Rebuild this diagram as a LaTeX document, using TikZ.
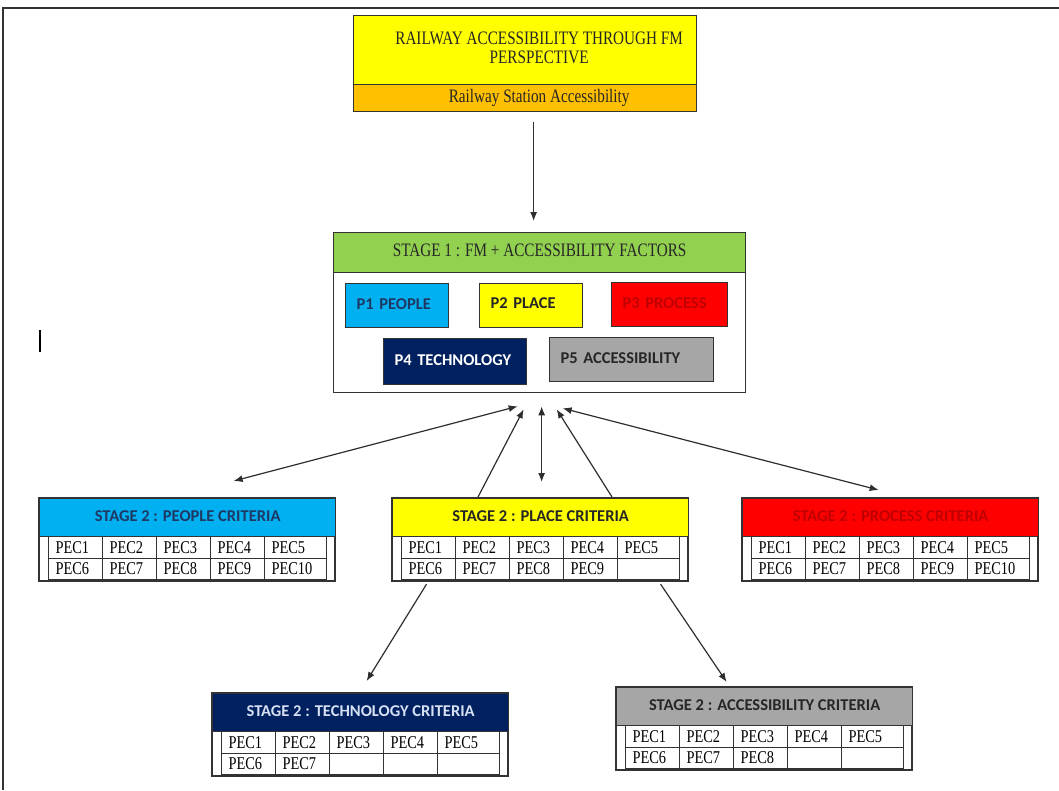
\documentclass[tikz,border=0pt]{standalone}
\usepackage{fontspec}
\usetikzlibrary{arrows.meta}
\newfontfamily\serifc{Liberation Serif}[FakeStretch=0.8]
\newfontfamily\calib{Carlito}

\definecolor{edge}{HTML}{333333}
\definecolor{arrowc}{HTML}{2E2E2E}
\definecolor{ylw}{HTML}{FFFF00}
\definecolor{orng}{HTML}{FFC000}
\definecolor{grn}{HTML}{92D050}
\definecolor{cyn}{HTML}{00B0F0}
\definecolor{rd}{HTML}{FF0000}
\definecolor{dkrd}{HTML}{C00000}
\definecolor{nvy}{HTML}{002060}
\definecolor{gry}{HTML}{A6A6A6}
\definecolor{dkblue}{HTML}{1F3864}
\definecolor{dktxt}{HTML}{262626}
\definecolor{lighttxt}{HTML}{D6E0F2}

\tikzset{
  box/.style={draw=edge, line width=1.3pt, rectangle, inner sep=0pt, anchor=north west},
  pbox/.style={box, font=\calib\bfseries\fontsize{16.5}{18}\selectfont, inner xsep=11pt, align=left},
  hdr/.style={box, minimum width=296pt, minimum height=38pt, font=\calib\bfseries\fontsize{16.5}{18}\selectfont},
  cell/.style={draw=edge, line width=1.1pt, rectangle, anchor=north west, minimum height=21.5pt,
    inner xsep=8pt, inner ysep=0pt, align=left, font=\serifc\fontsize{18}{18}\selectfont},
  framebox/.style={draw=edge, line width=1.3pt, fill=white},
  arr/.style={draw=arrowc, line width=1.2pt, -{Latex[length=9pt,width=7pt]}},
  darr/.style={draw=arrowc, line width=1.2pt, {Latex[length=9pt,width=7pt]}-{Latex[length=9pt,width=7pt]}},
}

% Stage 2 criteria box: name, left, top, fill, text colour, title, number of filled cells
\newcommand{\critbox}[7]{%
  \draw[framebox] (#2,#3) rectangle ++(296,83);
  \node[hdr, fill=#4, text=#5] (#1) at (#2,#3) {\raisebox{4pt}{#6}};
  \foreach \i in {1,...,10}{%
    \pgfmathtruncatemacro\rw{(\i-1)/5}%
    \pgfmathtruncatemacro\cl{mod(\i-1,5)}%
    \pgfmathsetmacro\cx{#2+9+54*\cl}%
    \pgfmathsetmacro\cw{\cl==4 ? 62 : 54}%
    \pgfmathsetmacro\tw{\cw-14}%
    \ifnum\i>#7 \def\lbl{}\else\def\lbl{PEC\i}\fi
    \node[cell, minimum width=\cw pt, text width=\tw pt, inner xsep=7pt] (#1-\i) at (\cx,#3+38+21.5*\rw) {\lbl};
  }%
}

\begin{document}
\begin{tikzpicture}[x=1pt, y=-1pt]
\useasboundingbox (0,0) rectangle (1059,790);

% outer frame
\draw[draw=edge, line width=1.3pt] (3,790) -- (3,8) -- (1059,8);
\draw[draw=black, line width=1.2pt] (40,330) -- (40,352);

% title box (text sits a little right of centre)
\node[box, fill=ylw, minimum width=343pt, minimum height=69pt, align=center,
      font=\serifc\fontsize{19}{21}\selectfont, text=dktxt] (top) at (353,15)
      {\hspace*{28pt}\raisebox{5pt}{\shortstack{RAILWAY ACCESSIBILITY THROUGH FM\\[4pt] PERSPECTIVE}}};
\node[box, fill=orng, minimum width=343pt, minimum height=27pt,
      font=\serifc\fontsize{19}{20}\selectfont, text=dktxt] (topsub) at (353,84)
      {\hspace*{28pt}Railway Station Accessibility};

% stage 1
\node[box, fill=white, minimum width=412pt, minimum height=160pt] (s1) at (333,232) {};
\node[box, fill=grn, minimum width=412pt, minimum height=40pt,
      font=\serifc\fontsize{19}{20}\selectfont, text=dktxt] (s1h) at (333,232)
      {\raisebox{4pt}{STAGE 1 : FM + ACCESSIBILITY FACTORS}};

\node[pbox, fill=cyn, text=dkblue, minimum width=103pt, minimum height=44pt, text width=81pt] (p1) at (345,283) {\raisebox{3pt}{P1 PEOPLE}};
\node[pbox, fill=ylw, text=dktxt, minimum width=103pt, minimum height=44pt, text width=81pt] (p2) at (479,283) {\raisebox{5pt}{P2 PLACE}};
\node[pbox, fill=rd, text=dkrd, minimum width=116pt, minimum height=44pt, text width=94pt] (p3) at (611,282) {\raisebox{4pt}{P3 PROCESS}};
\node[pbox, fill=nvy, text=white, minimum width=143pt, minimum height=46pt, text width=121pt] (p4) at (383,338) {\raisebox{4pt}{P4 TECHNOLOGY}};
\node[pbox, fill=gry, text=dktxt, minimum width=164pt, minimum height=44pt, text width=142pt] (p5) at (549,337) {\raisebox{4pt}{P5 ACCESSIBILITY}};

% stage 2
\critbox{ph}{39}{498}{cyn}{dkblue}{STAGE 2 : PEOPLE CRITERIA}{10}
\critbox{pl}{392}{498}{ylw}{dktxt}{STAGE 2 : PLACE CRITERIA}{9}
\critbox{pr}{742}{498}{rd}{dkrd}{STAGE 2 : PROCESS CRITERIA}{10}
\critbox{te}{212}{693}{nvy}{lighttxt}{STAGE 2 : TECHNOLOGY CRITERIA}{7}
\critbox{ac}{616}{687}{gry}{dktxt}{STAGE 2 : ACCESSIBILITY CRITERIA}{8}

% connectors
\draw[arr] ([shift={(8.5,10)}]topsub.south) -- ([shift={(-6,-11)}]s1.north);
\draw[darr] ([shift={(46,-17)}]ph.north) -- ([shift={(-22,13)}]s1.south);
\draw[arr] ([shift={(86,-1)}]pl.north west) -- ([shift={(-16,16)}]s1.south);
\draw[darr] ([shift={(2,13)}]s1.south) -- ([shift={(1,-16)}]pl.north);
\draw[arr] ([shift={(220,-1)}]pl.north west) -- ([shift={(17,16)}]s1.south);
\draw[darr] ([shift={(23,15)}]s1.south) -- ([shift={(-12,-8)}]pr.north);
\draw[arr] ([shift={(-2,4)}]pl-6.south) -- ([shift={(6,-12)}]te.north);
\draw[arr] ([shift={(12,4)}]pl-10.south) -- ([shift={(-38,-5)}]ac.north);
\end{tikzpicture}
\end{document}
